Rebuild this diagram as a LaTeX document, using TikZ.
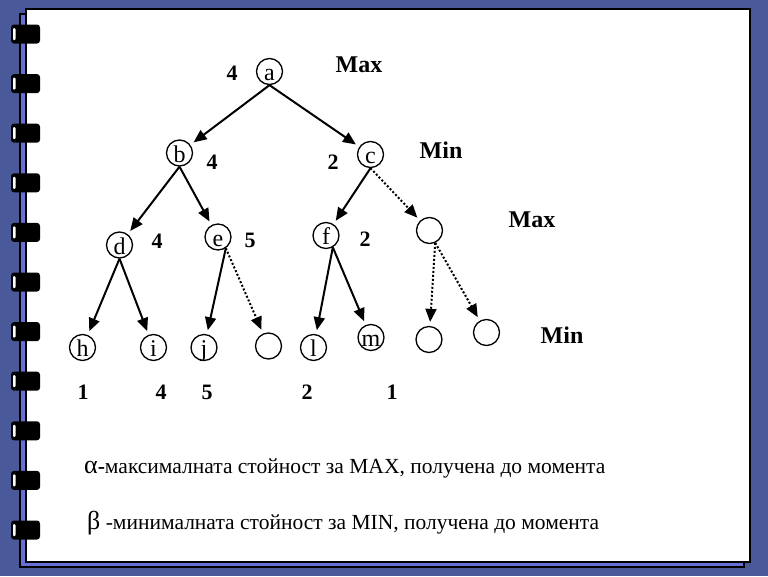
\documentclass[tikz,border=0pt]{standalone}
\usepackage{fontspec}
\setmainfont{Liberation Serif}
\usetikzlibrary{shapes,arrows.meta,calc}
\definecolor{slate}{RGB}{74,89,154}
\definecolor{lilac}{RGB}{104,112,214}
\newcommand{\fs}[1]{\fontsize{#1}{#1}\selectfont}

\begin{document}
\begin{tikzpicture}[x=1pt,y=-1pt,
	st/.style={circle,draw,line width=1.3pt,minimum size=26pt,inner sep=0pt,font=\fs{24},text height=18pt,text depth=0pt},
	val/.style={font=\fs{22}\bfseries,inner sep=0pt},
	lvl/.style={font=\fs{24}\bfseries,inner sep=0pt},
	note/.style={anchor=west,font=\fs{21.5},inner sep=0pt},
	edge/.style={line width=2pt,-{Triangle[length=13pt,width=11pt]},shorten >=4pt},
	cut/.style={edge,dash pattern=on 2pt off 2pt}]
		\useasboundingbox (0,0) rectangle (768,576);
		\fill [slate] (0,0) rectangle (768,576);
		\draw [line width=2pt,fill=lilac] (20,14) rectangle (744,567);
		\draw [line width=2pt,fill=white] (26,9) rectangle (750,562);
		\foreach \i in {0,...,10} {
			\fill [rounded corners=3pt] (11,{24.5+49.6*\i}) rectangle (40,{43.5+49.6*\i});
			\fill [white,rounded corners=1pt] (13,{28+49.6*\i}) rectangle (15.5,{40+49.6*\i});
		}
		\node [st] (a) at (269.5,71.5) {a};
		\node [st] (b) at (179.5,153) {b};
		\node [st] (c) at (370.5,154.5) {c};
		\node [st] (d) at (119.5,245) {d};
		\node [st] (e) at (218,237) {e};
		\node [st] (f) at (326,235.5) {f};
		\node [st] (g) at (429.5,230.5) {};
		\node [st] (h) at (82.5,347.5) {h};
		\node [st] (i) at (153.5,347.5) {i};
		\node [st] (j) at (204,347.5) {j};
		\node [st] (k) at (268.5,346) {};
		\node [st] (l) at (313.5,347.5) {l};
		\node [st] (m) at (371,337.5) {m};
		\node [st] (n) at (429,339.5) {};
		\node [st] (o) at (486.5,332.5) {};
		\draw [edge] (a.south) -- (b);
		\draw [edge] (a.south) -- (c);
		\draw [edge] (b.south) -- (d);
		\draw [edge] (b.south) -- (e);
		\draw [edge] (c.south) -- (f);
		\draw [cut] (c.south) -- (g);
		\draw [edge] (d.south) -- (h);
		\draw [edge] (d.south) -- (i);
		\draw [edge] (e.-55) -- (j);
		\draw [cut] (e.-55) -- (k);
		\draw [edge] (f.-60) -- (l);
		\draw [edge] (f.-60) -- (m);
		\draw [cut] (g.-65) -- (n);
		\draw [cut] (g.-65) -- (o);
		\node [val] (va) at (232,73) {4};
		\node [val] (vb) at (212,162) {4};
		\node [val] (vc) at (333,162) {2};
		\node [val] (vd) at (157,241) {4};
		\node [val] (ve) at (250,240) {5};
		\node [val] (vf) at (365,239) {2};
		\node [val] (vh) at (83,392) {1};
		\node [val] (vi) at (161,392) {4};
		\node [val] (vj) at (207,392) {5};
		\node [val] (vl) at (307,392) {2};
		\node [val] (vm) at (392,392) {1};
		\node [lvl] (max1) at (359,65) {Max};
		\node [lvl] (min1) at (441,150) {Min};
		\node [lvl] (max2) at (532,220) {Max};
		\node [lvl] (min2) at (562,335) {Min};
		\node [note] (alpha) at (84,468) {{\fs{26}α}\textbf{-}максималната стойност за MAX, получена до момента};
		\node [note] (beta) at (87,523) {{\fs{26}β} -минималната стойност за MIN, получена до момента};
\end{tikzpicture}
\end{document}
